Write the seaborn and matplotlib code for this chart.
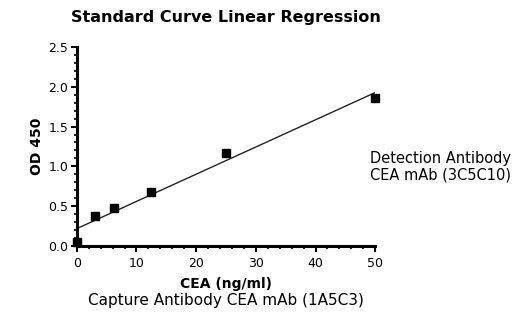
import matplotlib
matplotlib.use("Agg")
import matplotlib.pyplot as plt
import seaborn as sns
from matplotlib.ticker import MultipleLocator

# Standard curve data
cea_conc = [0, 3.125, 6.25, 12.5, 25, 50]
od_450 = [0.05, 0.38, 0.48, 0.68, 1.17, 1.86]

x_ticks = [0, 10, 20, 30, 40, 50]
y_ticks = [0.0, 0.5, 1.0, 1.5, 2.0, 2.5]

sns.set_style("ticks")
plt.rcParams['font.family'] = ['DejaVu Sans']
plt.rcParams['text.color'] = 'black'
plt.rcParams['axes.labelcolor'] = 'black'
plt.rcParams['xtick.color'] = 'black'
plt.rcParams['ytick.color'] = 'black'
plt.rcParams['axes.edgecolor'] = 'black'

fig = plt.figure(figsize=(5.19, 3.17), dpi=100)
ax = fig.add_axes([0.148, 0.224, 0.575, 0.628])

sns.regplot(x=cea_conc, y=od_450, ax=ax, ci=None, truncate=False,
            marker='s', color='black',
            scatter_kws={'s': 26, 'alpha': 1, 'clip_on': False, 'zorder': 3},
            line_kws={'lw': 1.0, 'color': '#222222'})

ax.set_xlim(0, 50)
ax.set_ylim(0, 2.5)
ax.set_xticks(x_ticks)
ax.set_yticks(y_ticks)
ax.set_yticklabels([f"{v:.1f}" for v in y_ticks])
ax.xaxis.set_minor_locator(MultipleLocator(2))
ax.yaxis.set_minor_locator(MultipleLocator(0.1))
sns.despine(ax=ax)
for s in ['left', 'bottom']:
    ax.spines[s].set_linewidth(2.2)
ax.tick_params(which='major', length=4, width=1.5, labelsize=9, pad=2)
ax.tick_params(axis='x', which='major', pad=4)
ax.tick_params(which='minor', length=2.5, width=1.2)

ax.set_xlabel("CEA (ng/ml)", fontsize=10, fontweight='bold', labelpad=5)
ax.set_ylabel("OD 450", fontsize=10, fontweight='bold', labelpad=3)
ax.set_title("Standard Curve Linear Regression", fontsize=11.5, fontweight='bold', pad=18)

fig.text(0.435, 0.038, "Capture Antibody CEA mAb (1A5C3)", ha='center', fontsize=11)
fig.text(0.712, 0.475, "Detection Antibody\nCEA mAb (3C5C10)", ha='left', va='center',
         fontsize=10.5, linespacing=1.1)

fig.savefig("out.png", dpi=100)
